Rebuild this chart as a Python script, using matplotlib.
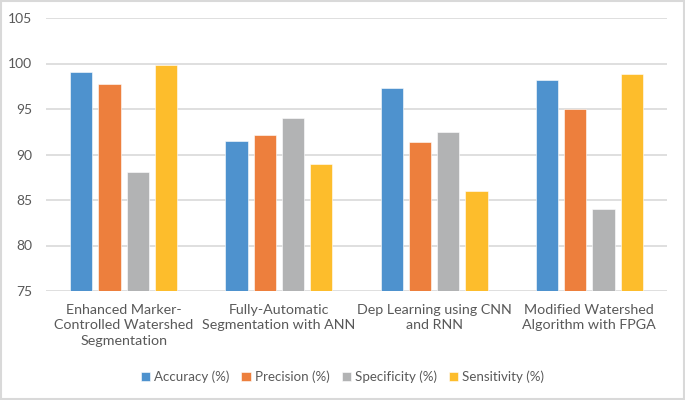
import numpy as np
import matplotlib.pyplot as plt
from matplotlib.patches import Rectangle

categories = ["Enhanced Marker-\nControlled Watershed\nSegmentation",
              "Fully-Automatic\nSegmentation with ANN",
              "Dep Learning using CNN\nand RNN",
              "Modified Watershed\nAlgorithm with FPGA"]
series_names = ["Accuracy (%)", "Precision (%)", "Specificity (%)", "Sensitivity (%)"]
accuracy = [99.1, 91.5, 97.3, 98.2]
precision = [97.8, 92.1, 91.4, 95.0]
specificity = [88.1, 94.0, 92.5, 84.0]
sensitivity = [99.8, 89.0, 86.0, 98.8]
yticks = [75, 80, 85, 90, 95, 100, 105]

colors = ["#4E92CE", "#ED7F3D", "#B2B3B4", "#FDBD2C"]
text_color = "#595959"
plt.rcParams['font.family'] = ['Lato', 'DejaVu Sans']

fig = plt.figure(figsize=(6.85, 4.0), dpi=100)
ax = fig.add_axes([46 / 685, 1 - 291 / 400, (667 - 46) / 685, (291 - 18) / 400])

x = np.arange(len(categories))
width = 0.144
pitch = 0.182
for i, (name, vals) in enumerate(zip(series_names, [accuracy, precision, specificity, sensitivity])):
    ax.bar(x + (i - 1.5) * pitch, np.array(vals) - 75, width, bottom=75,
           color=colors[i], label=name, edgecolor='white', linewidth=0.4, zorder=3)

ax.set_xlim(-0.5, len(categories) - 0.5)
ax.set_ylim(75, 105)
ax.set_yticks(yticks)
ax.set_yticklabels([str(t) for t in yticks])
ax.yaxis.grid(True, color="#D9D9D9", linewidth=1.2, zorder=0)
for s in ax.spines.values():
    s.set_visible(False)
ax.tick_params(axis='both', length=0, colors=text_color, labelsize=10)
ax.tick_params(axis='y', pad=10)
ax.set_xticks(x)
ax.set_xticklabels(categories, linespacing=1.38, fontsize=10.3)
ax.tick_params(axis='x', pad=9)

leg = fig.legend(loc='center', bbox_to_anchor=(0.5, 1 - 377 / 400), ncol=4, frameon=False,
                 fontsize=9.6, handlelength=0.7, handleheight=0.7, handletextpad=0.3,
                 columnspacing=0.9)
for t in leg.get_texts():
    t.set_color(text_color)

fig.patches.append(Rectangle((0.002, 0.003), 0.996, 0.994, transform=fig.transFigure,
                             fill=False, edgecolor="#D9D9D9", linewidth=1.5))

fig.savefig("out.png", dpi=100, facecolor='white')
